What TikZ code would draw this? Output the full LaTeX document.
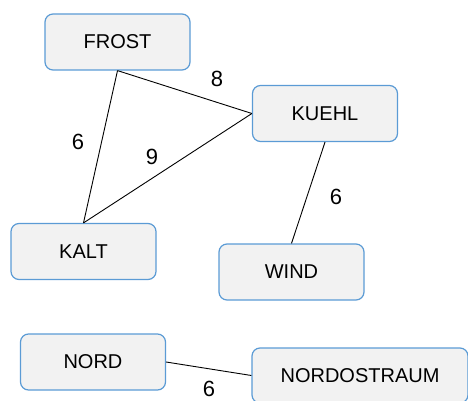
\documentclass[tikz,border=0pt]{standalone}
\usepackage{fontspec}
\setmainfont{Liberation Sans}
\definecolor{boxfill}{HTML}{F2F2F2}
\definecolor{boxline}{HTML}{5B9BD5}
\begin{document}
\begin{tikzpicture}[x=1pt,y=-1pt,
  box/.style={draw=boxline,fill=boxfill,line width=1.2pt,rounded corners=8pt,
    minimum width=145pt,minimum height=56pt,inner sep=0pt,font=\fontsize{20}{24}\selectfont},
  wlabel/.style={font=\fontsize{22}{26}\selectfont,inner sep=0pt},
  edge/.style={draw=black,line width=0.9pt}]
\useasboundingbox (0,0) rectangle (468,401);
\node[box] (frost) at (117.5,42) {FROST};
\node[box] (kuehl) at (325,113.5) {KUEHL};
\node[box] (kalt) at (83.5,251.5) {KALT};
\node[box] (wind) at (291.5,272) {WIND};
\node[box] (nord) at (93,362) {NORD};
\node[box,minimum width=216pt,minimum height=55pt] (nordo) at (360,375.5) {NORDOSTRAUM};
\draw[edge] (frost.south) -- (kuehl.west);
\draw[edge] (frost.south) -- (kalt.north);
\draw[edge] (kalt.north) -- (kuehl.west);
\draw[edge] (kuehl.south) -- (wind.north);
\draw[edge] (nord.east) -- (nordo.west);
\node[wlabel] (l1) at (217,79) {8};
\node[wlabel] (l2) at (78,142) {6};
\node[wlabel] (l3) at (152,157) {9};
\node[wlabel] (l4) at (336,197) {6};
\node[wlabel] (l5) at (209,389) {6};
\end{tikzpicture}
\end{document}
